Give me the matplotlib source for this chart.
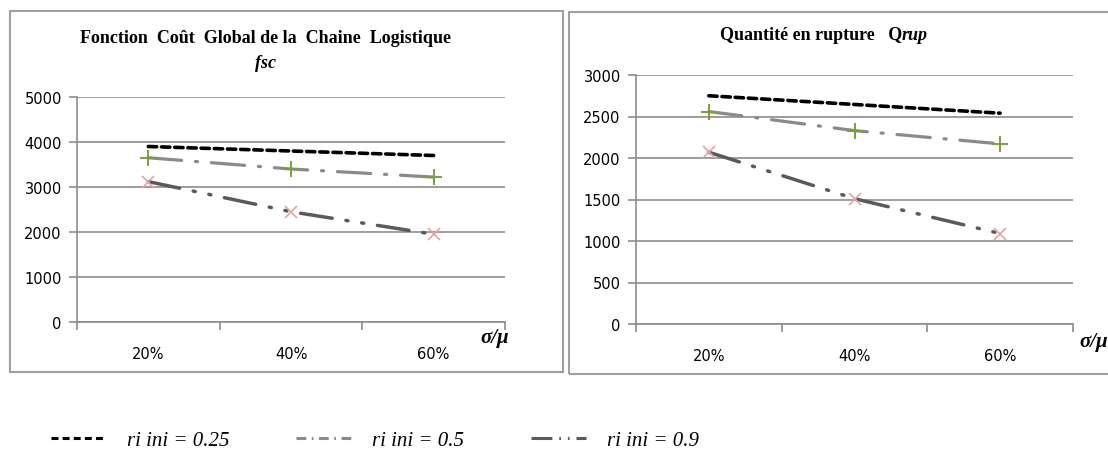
import matplotlib
matplotlib.use("Agg")
import matplotlib.pyplot as plt
from matplotlib.patches import Rectangle
from matplotlib.lines import Line2D

# Données
categories = ["20%", "40%", "60%"]
series_labels = ["ri ini = 0.25", "ri ini = 0.5", "ri ini = 0.9"]

fsc_025 = [3900, 3800, 3700]
fsc_05 = [3650, 3400, 3220]
fsc_09 = [3120, 2450, 1950]

qrup_025 = [2750, 2645, 2540]
qrup_05 = [2560, 2330, 2170]
qrup_09 = [2070, 1510, 1090]

plt.rcParams['lines.scale_dashes'] = False

colors = ['#000000', '#8a8a8a', '#5a5a5a']
widths = [2.6, 2.3, 2.5]
dashes = [(6, 3.5), (24, 10, 1.5, 10), (23, 10, 1.5, 10, 1.5, 10)]
legend_dashes = [(5, 3), (7, 4, 1.2, 4), (15, 5, 1.2, 5, 1.2, 5)]
grid_col = '#8c8c8c'
serif = 'Liberation Serif'
tick_font = 'DejaVu Sans'

fig = plt.figure(figsize=(11.08, 4.52), dpi=100)

# cadres des deux graphes
fig.patches.append(Rectangle((10 / 1108, 1 - 373 / 452), 553 / 1108, 361 / 452,
                             transform=fig.transFigure, fill=False,
                             edgecolor='#a0a0a0', linewidth=1.5))
fig.patches.append(Rectangle((569 / 1108, 1 - 375 / 452), 560 / 1108, 362 / 452,
                             transform=fig.transFigure, fill=False,
                             edgecolor='#a0a0a0', linewidth=1.5))

ax1 = fig.add_axes([77 / 1108, 1 - 323 / 452, 428 / 1108, 225 / 452])
ax2 = fig.add_axes([636 / 1108, 1 - 325 / 452, 437 / 1108, 249 / 452])

data = [(ax1, [fsc_025, fsc_05, fsc_09], 5000, 1000),
        (ax2, [qrup_025, qrup_05, qrup_09], 3000, 500)]

x = list(range(len(categories)))
handles = []
for ax, ys, ymax, step in data:
    for i, y in enumerate(ys):
        ln, = ax.plot(x, y, color=colors[i], linewidth=widths[i],
                      solid_capstyle='round', dash_capstyle='round')
        ln.set_dashes(dashes[i])
        if ax is ax1:
            handles.append(Line2D([], [], color=colors[i], linewidth=2.2,
                                  dashes=legend_dashes[i]))
    ax.plot(x, ys[1], linestyle='none', marker='+', color='#77a03a',
            markersize=11, markeredgewidth=1.4)
    ax.plot(x, ys[2], linestyle='none', marker='x', color='#e6a3a3',
            markersize=8, markeredgewidth=1.2)

    ax.set_xlim(-0.5, len(categories) - 0.5)
    ax.set_ylim(0, ymax)
    ax.set_yticks(range(0, ymax + 1, step))
    ax.yaxis.grid(True, color=grid_col, linewidth=1.2)
    ax.set_axisbelow(True)
    ax.set_xticks(x)
    ax.set_xticklabels(categories, fontfamily=tick_font, fontsize=10.5)
    ax.set_xticks([-0.5, 0.5, 1.5, 2.5], minor=True)
    ax.tick_params(axis='x', which='major', length=0, pad=17)
    ax.tick_params(axis='x', which='minor', length=6, color=grid_col, width=1.2)
    ax.tick_params(axis='y', length=6, color=grid_col, width=1.2, pad=5,
                   labelsize=10.5)
    for lab in ax.get_yticklabels():
        lab.set_fontfamily(tick_font)
    for s in ['top', 'right']:
        ax.spines[s].set_visible(False)
    for s in ['left', 'bottom']:
        ax.spines[s].set_color(grid_col)
        ax.spines[s].set_linewidth(1.2)

# titres
ax1.text(0.44, 1.265, "Fonction  Coût  Global de la  Chaine  Logistique",
         transform=ax1.transAxes, ha='center', va='center',
         fontfamily=serif, fontweight='bold', fontsize=13)
ax1.text(0.44, 1.155, "fsc", transform=ax1.transAxes, ha='center', va='center',
         fontfamily=serif, fontweight='bold', fontstyle='italic', fontsize=13)

t2 = ax2.text(0.40, 1.145, "Quantité en rupture   Q", transform=ax2.transAxes,
              ha='center', va='baseline', fontfamily=serif, fontweight='bold',
              fontsize=13)
ax2.annotate("rup", xy=(1, 0), xycoords=t2, va='bottom', ha='left',
             fontfamily=serif, fontweight='bold', fontstyle='italic', fontsize=13)

# σ/μ
ax1.text(0.975, -0.065, "σ/μ", transform=ax1.transAxes, ha='center', va='center',
         fontfamily=serif, fontweight='bold', fontstyle='italic', fontsize=15)
ax2.text(1.015, -0.068, "σ/μ", transform=ax2.transAxes, ha='left', va='center',
         fontfamily=serif, fontweight='bold', fontstyle='italic', fontsize=15)

fig.legend(handles, series_labels, loc='center left',
           bbox_to_anchor=(32 / 1108, 1 - 441 / 452), ncol=3, frameon=False,
           prop={'family': serif, 'style': 'italic', 'size': 15},
           handlelength=2.65, handletextpad=1.0, columnspacing=3.2)

fig.savefig("out.png", dpi=100)
